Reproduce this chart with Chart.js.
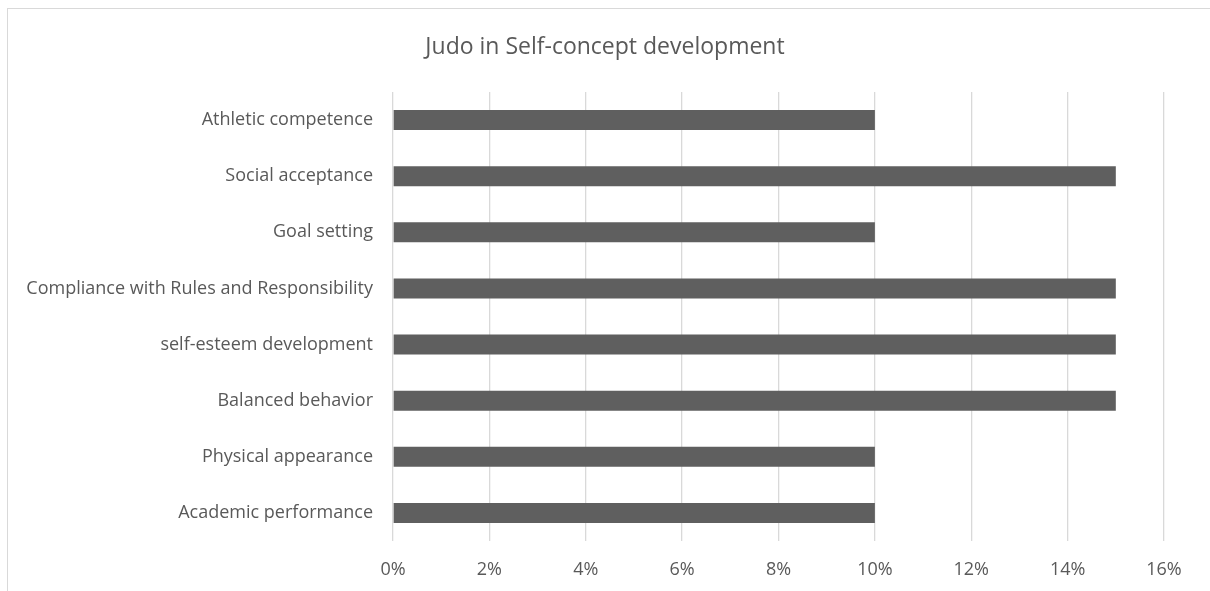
<!DOCTYPE html>
<html>
<head>
<meta charset="utf-8">
<script src="https://cdn.jsdelivr.net/npm/chart.js@4"></script>
<style>
    html, body { margin: 0; padding: 0; background: #fff; overflow: hidden; }
    #frame { position: absolute; left: 7px; top: 8px; width: 1400px; height: 800px; border: 1px solid #d9d9d9; }
    #wrap { position: absolute; left: 0; top: 0; width: 1210px; height: 591px; }
</style>
</head>
<body>
<div id="frame"></div>
<div id="wrap"><canvas id="judoChart"></canvas></div>
<script>
const categories = [
    'Athletic competence',
    'Social acceptance',
    'Goal setting',
    'Compliance with Rules and Responsibility',
    'self-esteem development',
    'Balanced behavior',
    'Physical appearance',
    'Academic performance'
];
const values = [10, 15, 10, 15, 15, 15, 10, 10];
const xTicks = [0, 2, 4, 6, 8, 10, 12, 14, 16];

Chart.defaults.font.family = "'Open Sans', sans-serif";
Chart.defaults.color = '#595959';

const ctx = document.getElementById('judoChart').getContext('2d');
new Chart(ctx, {
    type: 'bar',
    data: {
        labels: categories,
        datasets: [{
            label: 'Judo',
            data: values,
            backgroundColor: '#5f5f5f',
            borderWidth: 0,
            barPercentage: 0.71,
            categoryPercentage: 0.5
        }]
    },
    options: {
        indexAxis: 'y',
        responsive: true, maintainAspectRatio: false,
        animation: false,
        layout: { padding: 0 },
        plugins: {
            legend: { display: false },
            tooltip: { enabled: false },
            title: {
                display: true,
                text: 'Judo in Self-concept development',
                font: { size: 23, weight: 'normal' },
                color: '#595959',
                padding: { top: 33.5, bottom: 30.9 }
            }
        },
        scales: {
            x: {
                min: 0, max: 16,
                afterBuildTicks: (scale) => { scale.ticks = xTicks.map(v => ({ value: v })); },
                afterFit: (scale) => { scale.height = 50; },
                ticks: {
                    font: { size: 18 },
                    padding: 18,
                    callback: (v) => v + '%'
                },
                grid: { color: '#d9d9d9', lineWidth: 1.3, drawTicks: false },
                border: { display: false }
            },
            y: {
                afterFit: (scale) => { scale.width = 393; },
                ticks: { font: { size: 18 }, padding: 20 },
                grid: { display: false, drawTicks: false },
                border: { display: false }
            },
            // empty right-hand spacer so the title centres on the whole canvas
            yRight: {
                position: 'right',
                display: true,
                afterFit: (scale) => { scale.width = 46; },
                ticks: { display: false },
                grid: { display: false, drawTicks: false },
                border: { display: false }
            }
        }
    }
});
</script>
</body>
</html>
